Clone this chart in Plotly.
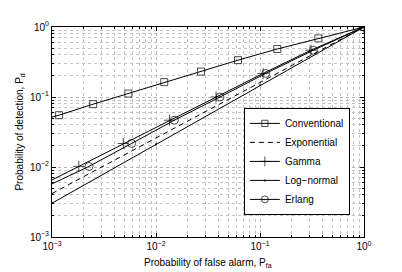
import plotly.graph_objects as go

# Conventional detector (first point = curve start at left edge, no marker)
conv_pfa = [1e-3, 1.17e-3, 2.49e-3, 5.42e-3, 0.0120, 0.0271, 0.0614, 0.1466, 0.364, 1.0]
conv_pd = [0.0517, 0.055, 0.079, 0.112, 0.163, 0.231, 0.336, 0.485, 0.689, 1.0]

# Exponential (dashed)
exp_pfa = [1e-3, 1e-2, 1e-1, 1.0]
exp_pd = [0.00418, 0.0259, 0.161, 1.0]

# Gamma (+ markers)
gam_pfa = [1e-3, 1.81e-3, 4.85e-3, 0.0135, 0.0378, 0.107, 0.309, 1.0]
gam_pd = [0.00653, 0.0102, 0.0217, 0.0466, 0.1, 0.217, 0.466, 1.0]

# Log-normal (. markers)
logn_pfa = [1e-3, 1e-2, 1e-1, 1.0]
logn_pd = [0.00304, 0.0211, 0.1466, 1.0]

# Erlang (o markers)
erl_pfa = [1e-3, 2.27e-3, 5.83e-3, 0.0150, 0.0412, 0.1135, 0.326, 1.0]
erl_pd = [0.00574, 0.0102, 0.0217, 0.0466, 0.1, 0.217, 0.466, 1.0]

names = ["Conventional", "Exponential", "Gamma", "Log\u2212normal", "Erlang"]

tick_vals = [1e-3, 1e-2, 1e-1, 1.0]
tick_text = ["10<sup>\u22123</sup>", "10<sup>\u22122</sup>", "10<sup>\u22121</sup>", "10<sup>0</sup>"]

x_title = "Probability of false alarm, P<sub>fa</sub>"
y_title = "Probability of detection, P<sub>d</sub>"

FONT = "Liberation Sans, Arial, sans-serif"

def sizes(n, s):
    return [0] + [s] * (n - 1)

fig = go.Figure()
fig.add_trace(go.Scatter(
    x=conv_pfa, y=conv_pd, name=names[0], mode="lines+markers",
    line=dict(color="black", width=1),
    marker=dict(symbol="square-open", size=sizes(len(conv_pfa), 7), color="black",
                line=dict(width=1, color="black"))))
fig.add_trace(go.Scatter(
    x=exp_pfa, y=exp_pd, name=names[1], mode="lines",
    line=dict(color="black", width=1, dash="5px,4px")))
fig.add_trace(go.Scatter(
    x=gam_pfa, y=gam_pd, name=names[2], mode="lines+markers",
    line=dict(color="black", width=1),
    marker=dict(symbol="cross-thin-open", size=sizes(len(gam_pfa), 8), color="black",
                line=dict(width=1, color="black"))))
fig.add_trace(go.Scatter(
    x=logn_pfa, y=logn_pd, name=names[3], mode="lines+markers",
    line=dict(color="black", width=1),
    marker=dict(symbol="circle", size=2, color="black")))
fig.add_trace(go.Scatter(
    x=erl_pfa, y=erl_pd, name=names[4], mode="lines+markers",
    line=dict(color="black", width=1),
    marker=dict(symbol="circle-open", size=sizes(len(erl_pfa), 8), color="black",
                line=dict(width=1, color="black"))))

axis_common = dict(
    type="log", tickmode="array", tickvals=tick_vals, ticktext=tick_text,
    showline=True, linecolor="black", linewidth=1, mirror="ticks",
    ticks="inside", ticklen=4, tickcolor="black",
    showgrid=True, gridcolor="#b4b4b4", griddash="dot", gridwidth=1,
    zeroline=False,
    tickfont=dict(family=FONT, size=10, color="black"),
    minor=dict(dtick="D1", ticks="inside", ticklen=2, tickcolor="black",
               showgrid=True, gridcolor="#c4c4c4", griddash="dot", gridwidth=1),
)

fig.update_xaxes(range=[-3, 0], **axis_common)
fig.update_yaxes(range=[-3, 0], **axis_common)

# The page body adds an 8px offset; margins compensate so the plot area
# lands at x 52..364, y 20..237 in the window.
fig.update_layout(
    width=402, height=272,
    margin=dict(l=44, r=46, t=12, b=43),
    paper_bgcolor="white", plot_bgcolor="white",
    font=dict(family=FONT, size=10, color="black"),
    showlegend=True,
    legend=dict(x=0.615, y=0.36, xanchor="left", yanchor="middle",
                bgcolor="white", bordercolor="black", borderwidth=1,
                font=dict(family=FONT, size=10, color="black"),
                itemwidth=30, tracegroupgap=0),
    annotations=[
        dict(text=x_title, xref="paper", yref="paper", x=0.5, y=-0.125,
             xanchor="center", yanchor="middle", showarrow=False,
             font=dict(family=FONT, size=10, color="black")),
        dict(text=y_title, xref="paper", yref="paper", x=-0.104, y=0.5,
             xanchor="center", yanchor="middle", textangle=-90, showarrow=False,
             font=dict(family=FONT, size=10, color="black")),
    ],
)

fig.write_html("out.html")
